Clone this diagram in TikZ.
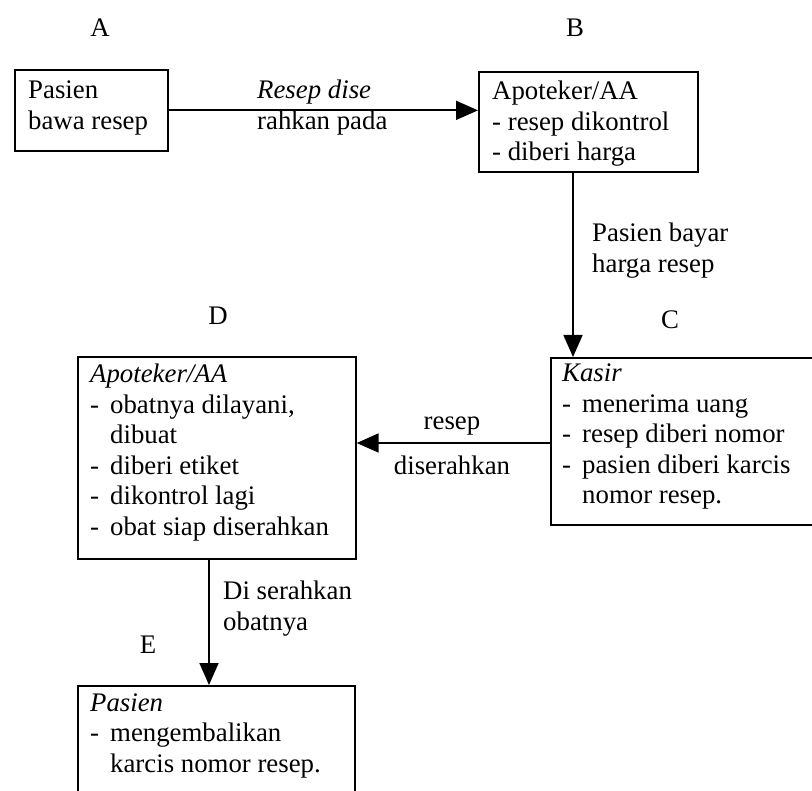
\documentclass[tikz,border=0pt]{standalone}
\usepackage{fontspec}
\setmainfont{Liberation Serif}
\usetikzlibrary{arrows.meta}

% bullet-like dash with a fixed tab, and a continuation line aligned to it
\newcommand{\dashitem}[1]{\makebox[20pt][l]{-}#1}
\newcommand{\hangline}[1]{\hspace*{20pt}#1}
% stacked lines whose reference point is the first baseline
\newcommand{\stack}[1]{\begin{tabular}[t]{@{}l@{}}#1\end{tabular}}

\begin{document}
\begin{tikzpicture}[x=1pt,y=-1pt,
  box/.style={draw, line width=1.7pt, inner sep=0pt, anchor=north west},
  txt/.style={inner sep=0pt, anchor=base west, font=\fontsize{26.8}{30.5}\selectfont},
  lbl/.style={inner sep=0pt, anchor=base, font=\fontsize{26.8}{30.5}\selectfont},
  flow/.style={line width=1.7pt, -{Triangle[length=22pt,width=19pt]}}]
\clip (0,0) rectangle (812,791);

% frames of the five stations
\node[box, minimum width=153pt, minimum height=81pt]  (A) at (14,69)  {};
\node[box, minimum width=219pt, minimum height=100pt] (B) at (478,71) {};
\node[box, minimum width=300pt, minimum height=167pt] (C) at (550,357) {};
\node[box, minimum width=278pt, minimum height=202pt] (D) at (77,356) {};
\node[box, minimum width=277pt, minimum height=130pt] (E) at (77,685) {};

% station letters
\node[lbl] (labA) at (100,37)  {A};
\node[lbl] (labB) at (575,37)  {B};
\node[lbl] (labC) at (670,329) {C};
\node[lbl] (labD) at (218,325) {D};
\node[lbl] (labE) at (148,653) {E};

% box contents
\node[txt] (tA) at (28,99) {\stack{Pasien\\ bawa resep}};
\node[txt] (tB) at (492,100) {\stack{Apoteker/AA\\ - resep dikontrol\\ - diberi harga}};
\node[txt] (tC) at (562,382) {\stack{\textit{Kasir}\\ \dashitem{menerima uang}\\
  \dashitem{resep diberi nomor}\\ \dashitem{pasien diberi karcis}\\ \hangline{nomor resep.}}};
\node[txt] (tD) at (90,383) {\stack{\textit{Apoteker/AA}\\ \dashitem{obatnya dilayani,}\\
  \hangline{dibuat}\\ \dashitem{diberi etiket}\\ \dashitem{dikontrol lagi}\\
  \dashitem{obat siap diserahkan}}};
\node[txt] (tE) at (90,711) {\stack{\textit{Pasien}\\ \dashitem{mengembalikan}\\
  \hangline{karcis nomor resep.}}};

% connectors
\coordinate (colBC) at (573,0);
\coordinate (rowCD) at (0,443);
\coordinate (colDE) at (209,0);
\draw[flow] (A.east) -- (A.east -| B.west);
\draw[flow] (colBC |- B.south) -- (colBC |- C.north);
\draw[flow] (rowCD -| C.west) -- (rowCD -| D.east);
\draw[flow] (colDE |- D.south) -- (colDE |- E.north);

% connector captions
\node[txt] (cAB) at (257,99) {\stack{\textit{Resep dise}\\ rahkan pada}};
\node[txt] (cBC) at (592,242) {\stack{Pasien bayar\\ harga resep}};
\node[lbl] (cCDa) at (452,430) {resep};
\node[lbl] (cCDb) at (452,475) {diserahkan};
\node[txt] (cDE) at (223,600) {\stack{Di serahkan\\ obatnya}};
\end{tikzpicture}
\end{document}
